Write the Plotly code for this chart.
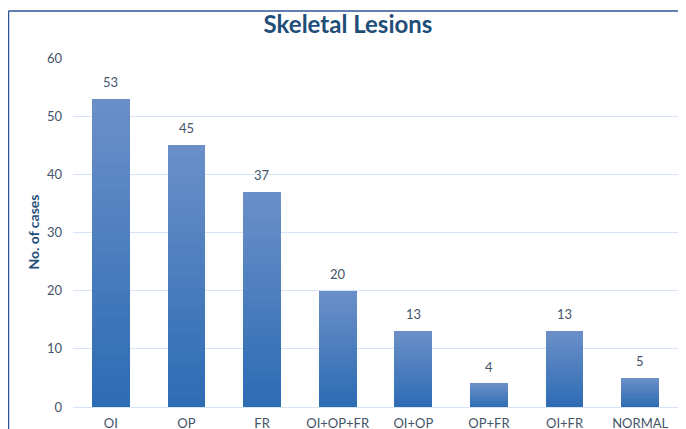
import plotly.graph_objects as go

categories = ["OI", "OP", "FR", "OI+OP+FR", "OI+OP", "OP+FR", "OI+FR", "NORMAL"]
cases = [53, 45, 37, 20, 13, 4, 13, 5]
y_ticks = [0, 10, 20, 30, 40, 50, 60]

N_STEPS = 24
dark = (46, 108, 180)
light = (106, 143, 200)

fig = go.Figure()
for i in range(N_STEPS):
    t = i / (N_STEPS - 1)
    c = tuple(round(dark[k] + (light[k] - dark[k]) * t) for k in range(3))
    fig.add_trace(go.Bar(
        x=categories,
        y=[v / N_STEPS for v in cases],
        marker=dict(color="rgb(%d,%d,%d)" % c, line=dict(width=0)),
        showlegend=False,
        hoverinfo="skip",
    ))

annotations = [
    dict(x=cat, y=v, text=str(v), showarrow=False, yanchor="bottom", yshift=7,
         font=dict(size=13, color="#44546A", family="Lato"))
    for cat, v in zip(categories, cases)
]

# page body adds an 8px offset; the figure is sized to fill the rest
W, H = 678, 421
ml, mr, mt, mb = 65, 8, 50, 22
pw, ph = W - ml - mr, H - mt - mb

annotations.append(dict(
    text="<b>No. of cases</b>", textangle=-90, showarrow=False,
    xref="paper", yref="paper", x=(25 - ml) / pw, y=0.5,
    xanchor="center", yanchor="middle",
    font=dict(size=14, color="#1F4E79", family="Lato"),
))

fig.update_layout(
    width=W, height=H,
    margin=dict(l=ml, r=mr, t=mt, b=mb, autoexpand=False),
    barmode="stack", bargap=0.5,
    plot_bgcolor="white", paper_bgcolor="white",
    font=dict(family="Lato", color="#44546A"),
    title=dict(text="<b>Skeletal Lesions</b>", x=340 / W, xanchor="center",
               y=1 - 17 / H, yanchor="middle",
               font=dict(size=24, color="#1F4E79", family="Lato")),
    xaxis=dict(showgrid=False, showline=False, ticks="", automargin=False,
               ticklabelstandoff=7,
               tickfont=dict(size=13, color="#44546A")),
    yaxis=dict(range=[0, 60], tickvals=y_ticks, showgrid=True, automargin=False,
               gridcolor="#D6E4F5", gridwidth=1, zeroline=True,
               zerolinecolor="#D6E4F5", zerolinewidth=1,
               ticklabelstandoff=10,
               tickfont=dict(size=13, color="#44546A"), ticks=""),
    annotations=annotations,
    shapes=[
        dict(type="line", xref="paper", yref="paper",
             x0=(0.5 - ml) / pw, x1=(0.5 - ml) / pw,
             y0=-0.2, y1=(H - mb - 3) / ph,
             line=dict(color="#2F5597", width=1.5)),
        dict(type="line", xref="paper", yref="paper",
             x0=(0.5 - ml) / pw, x1=(W - ml + 5) / pw,
             y0=(H - mb - 3) / ph, y1=(H - mb - 3) / ph,
             line=dict(color="#2F5597", width=1.5)),
    ],
)

fig.write_html("out.html")
